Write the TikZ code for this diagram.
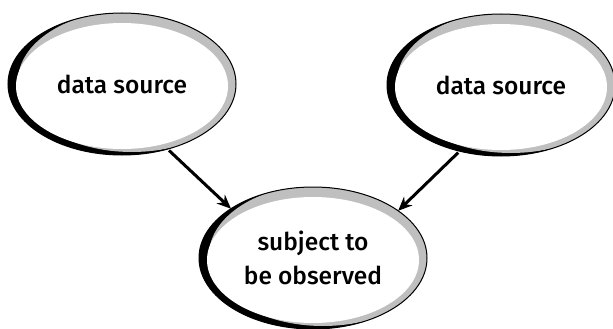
\documentclass[tikz,border=0pt]{standalone}
\usepackage{fontspec}
\setmainfont{Fira Sans}[UprightFont=* Medium]
\usetikzlibrary{shapes.geometric,calc,arrows.meta}
\tikzset{
  ringell/.style={ellipse, minimum width=228pt, minimum height=142pt, inner sep=0pt, outer sep=0pt,
    draw=black, line width=1pt, align=center, font=\fontsize{24.5}{34}\selectfont,
    path picture={
      \fill[black] (path picture bounding box.south west) rectangle (path picture bounding box.north east);
      \fill[gray!50] ($(path picture bounding box.center)+(10pt,3pt)$) ellipse [x radius=114pt, y radius=71pt];
      \fill[white] ($(path picture bounding box.center)+(0pt,-2pt)$) ellipse [x radius=106pt, y radius=63pt];
    }},
  link/.style={line width=3pt, -{Stealth[length=14pt,width=12pt]}, shorten <=2pt}
}
\begin{document}
\begin{tikzpicture}[x=1pt,y=-1pt]
\useasboundingbox (0,0) rectangle (613,329);
\node[ringell] (src1) at (122,84) {data source};
\node[ringell] (src2) at (501,85) {data source};
\node[ringell] (obs) at (313,258) {subject to\\be observed};
\draw[link] (src1.-55) -- (obs.149);
\draw[link] (src2.-122) -- (obs.29);
\end{tikzpicture}
\end{document}
